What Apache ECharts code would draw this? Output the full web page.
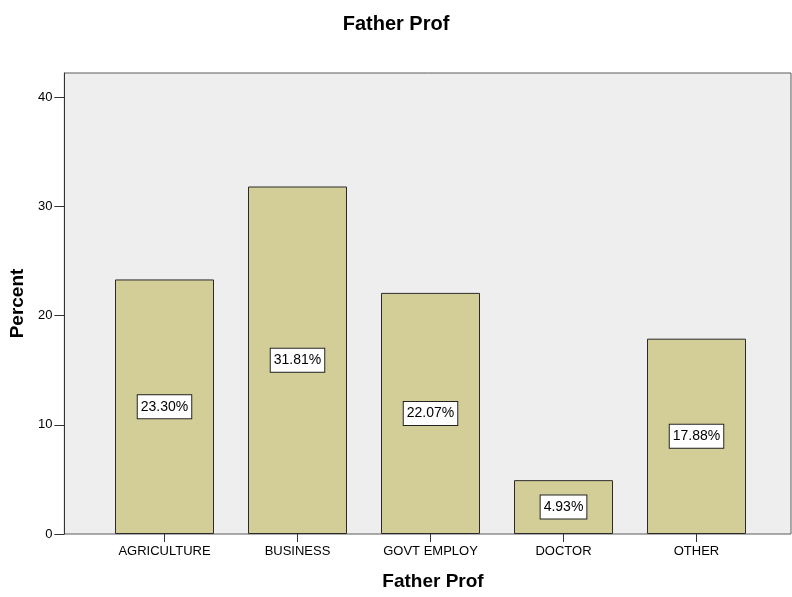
<!DOCTYPE html>
<html>
<head>
<meta charset="utf-8">
<script src="https://cdn.jsdelivr.net/npm/echarts@6/dist/echarts.min.js"></script>
<style>
  html, body { margin: 0; padding: 0; background: #fff; }
  #chart { width: 792px; height: 597px; }
</style>
</head>
<body>
<div id="chart"></div>
<script>
// Father's profession distribution (percent of respondents)
const categories = ['AGRICULTURE', 'BUSINESS', 'GOVT EMPLOY', 'DOCTOR', 'OTHER'];
const percents = [23.30, 31.81, 22.07, 4.93, 17.88];
const yTicks = [0, 10, 20, 30, 40];

const FONT = '"Liberation Sans", Arial, sans-serif';
const Y_MAX = 42.2;

const chart = echarts.init(document.getElementById('chart'), null, { renderer: 'canvas' });

chart.setOption({
  animation: false,
  title: {
    text: 'Father Prof',
    left: 'center',
    top: 9,
    textStyle: { fontFamily: FONT, fontSize: 20, fontWeight: 'bold', color: '#000' }
  },
  grid: [
    // plot frame with grey background
    { left: 62, top: 73, width: 729, bottom: 63, show: true,
      backgroundColor: '#eeeeee', borderColor: '#5a5a5a', borderWidth: 1 },
    // band area for the bars
    { left: 98, top: 73, width: 665, bottom: 63 }
  ],
  xAxis: [
    { gridIndex: 0, type: 'value', min: 0, max: 1, show: false },
    {
      gridIndex: 1,
      type: 'category',
      data: categories,
      name: 'Father Prof',
      nameLocation: 'middle',
      nameGap: 38,
      nameTextStyle: { fontFamily: FONT, fontSize: 19, fontWeight: 'bold', color: '#000', padding: [0, 0, 0, 5] },
      axisLine: { show: false },
      axisTick: { show: true, alignWithLabel: true, length: 8, lineStyle: { color: '#333' } },
      axisLabel: { fontFamily: FONT, fontSize: 13, color: '#000', margin: 11 }
    }
  ],
  yAxis: [
    {
      gridIndex: 0,
      type: 'value',
      min: 0,
      max: Y_MAX,
      name: 'Percent',
      nameLocation: 'middle',
      nameGap: 33,
      nameRotate: 90,
      nameTextStyle: { fontFamily: FONT, fontSize: 19, fontWeight: 'bold', color: '#000' },
      axisLine: { show: true, lineStyle: { color: '#333' } },
      axisTick: { show: true, length: 10, customValues: yTicks, lineStyle: { color: '#333' } },
      axisLabel: { fontFamily: FONT, fontSize: 13, color: '#000', margin: 12, customValues: yTicks },
      splitLine: { show: false }
    },
    { gridIndex: 1, type: 'value', min: 0, max: Y_MAX, show: false }
  ],
  series: [
    {
      type: 'bar',
      xAxisIndex: 1,
      yAxisIndex: 1,
      data: percents,
      barWidth: 99,
      itemStyle: { color: '#d3ce98', borderColor: '#2a2a2a', borderWidth: 1 },
      label: {
        show: true,
        position: 'inside',
        formatter: p => p.value.toFixed(2) + '%',
        fontFamily: FONT,
        fontSize: 14,
        color: '#000',
        backgroundColor: '#fff',
        borderColor: '#222',
        borderWidth: 1,
        padding: [5, 3, 4, 3]
      }
    }
  ]
});
</script>
</body>
</html>
